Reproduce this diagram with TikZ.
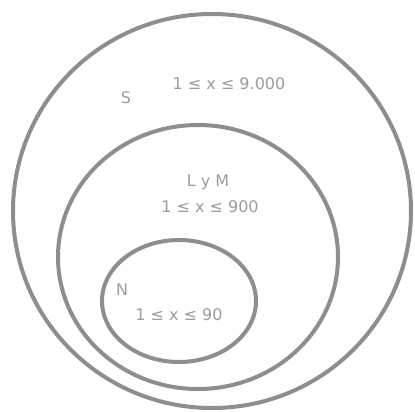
\documentclass[tikz,border=0pt]{standalone}
\usepackage{fontspec}
\setmainfont{DejaVu Sans}
\begin{document}
\begin{tikzpicture}[x=1pt,y=-1pt,
  ring/.style={draw=ringgray,line width=4pt},
  lbl/.style={text=txtgray,font=\fontsize{16}{18}\selectfont,inner sep=0pt}]
\definecolor{ringgray}{HTML}{8E8E8E}
\definecolor{txtgray}{HTML}{9C9C9C}
\useasboundingbox (0,0) rectangle (415,412);
\draw[ring] (212,211) ellipse [x radius=199,y radius=197];
\draw[ring] (198,257) ellipse [x radius=140,y radius=132];
\draw[ring] (179,301) ellipse [x radius=77,y radius=61];
\node[lbl] (s) at (126,98) {S};
\node[lbl] (sr) at (229,84) {1 ≤ x ≤ 9.000};
\node[lbl] (lm) at (208,182) {L y M};
\node[lbl] (lmr) at (210,207) {1 ≤ x ≤ 900};
\node[lbl] (n) at (122,290) {N};
\node[lbl] (nr) at (179,315) {1 ≤ x ≤ 90};
\end{tikzpicture}
\end{document}
